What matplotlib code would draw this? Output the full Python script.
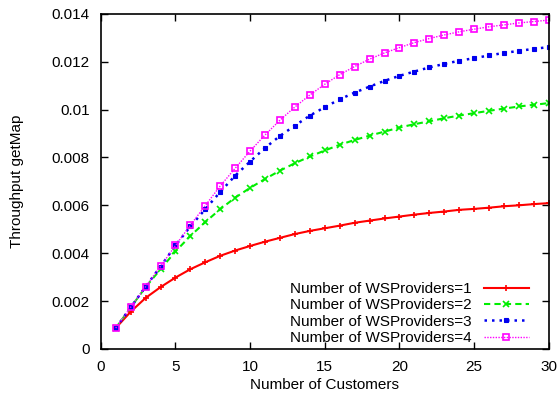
import matplotlib
matplotlib.use('Agg')
import matplotlib.pyplot as plt

plt.rcParams['font.family'] = ['Liberation Sans', 'DejaVu Sans']

customers = list(range(1, 31))

# throughput for 1..4 providers
thr_1 = [0.00087, 0.00155, 0.00213, 0.00258, 0.00298, 0.00333, 0.00362, 0.00389, 0.00411, 0.00430,
         0.00448, 0.00464, 0.00480, 0.00493, 0.00504, 0.00515, 0.00527, 0.00536, 0.00545, 0.00553,
         0.00561, 0.00568, 0.00574, 0.00581, 0.00585, 0.00590, 0.00596, 0.00600, 0.00605, 0.00609]
thr_2 = [0.00087, 0.00173, 0.00258, 0.00333, 0.00407, 0.00472, 0.00530, 0.00584, 0.00632, 0.00673,
         0.00710, 0.00745, 0.00776, 0.00804, 0.00829, 0.00853, 0.00873, 0.00891, 0.00908, 0.00925,
         0.00939, 0.00951, 0.00964, 0.00975, 0.00985, 0.00995, 0.01004, 0.01013, 0.01020, 0.01027]
thr_3 = [0.00087, 0.00173, 0.00260, 0.00344, 0.00432, 0.00512, 0.00584, 0.00656, 0.00724, 0.00783,
         0.00840, 0.00890, 0.00933, 0.00975, 0.01010, 0.01043, 0.01071, 0.01096, 0.01120, 0.01141,
         0.01159, 0.01176, 0.01191, 0.01204, 0.01215, 0.01226, 0.01237, 0.01245, 0.01254, 0.01261]
thr_4 = [0.00087, 0.00174, 0.00260, 0.00345, 0.00432, 0.00517, 0.00599, 0.00681, 0.00755, 0.00827,
         0.00894, 0.00956, 0.01011, 0.01061, 0.01106, 0.01146, 0.01180, 0.01211, 0.01237, 0.01259,
         0.01280, 0.01297, 0.01312, 0.01325, 0.01336, 0.01346, 0.01354, 0.01362, 0.01368, 0.01374]

labels = ['Number of WSProviders=1', 'Number of WSProviders=2',
          'Number of WSProviders=3', 'Number of WSProviders=4']

fig = plt.figure(figsize=(5.6, 3.96), dpi=100)
ax = fig.add_axes([0.180, 0.119, 0.800, 0.846])

ax.plot(customers, thr_1, color='#ff0000', ls='-', lw=1.5, marker='+', ms=5, mew=1.2, label=labels[0])
ax.plot(customers, thr_2, color='#00ee00', ls=(0, (3, 2)), lw=1.5, marker='x', ms=4, mew=1.2, label=labels[1])
ax.plot(customers, thr_3, color='#0000ee', ls=(0, (1, 2)), lw=1.8, marker='s', ms=3.2, mew=0.8, label=labels[2])
ax.plot(customers, thr_4, color='#ff00ff', ls=(0, (1, 1)), lw=1.0, marker='s', ms=5, mew=1.2,
        mfc='none', label=labels[3])

ax.set_xlim(0, 30)
ax.set_ylim(0, 0.014)
ax.set_xticks([0, 5, 10, 15, 20, 25, 30])
ax.set_yticks([0, 0.002, 0.004, 0.006, 0.008, 0.01, 0.012, 0.014])
ax.set_yticklabels(['0', '0.002', '0.004', '0.006', '0.008', '0.01', '0.012', '0.014'])
ax.tick_params(direction='in', top=True, right=True, length=5, width=1, labelsize=11, pad=8)
for s in ax.spines.values():
    s.set_linewidth(1.2)

ax.set_xlabel('Number of Customers', fontsize=11, labelpad=3)
ax.set_ylabel('Throughput getMap', fontsize=11, labelpad=20)

ax.legend(loc='lower right', bbox_to_anchor=(0.955, 0.012), frameon=False, markerfirst=False,
          fontsize=11, handlelength=2.9, handletextpad=0.8, labelspacing=0.15,
          borderaxespad=0.0, borderpad=0.0, numpoints=1)

fig.savefig('out.png', dpi=100)
